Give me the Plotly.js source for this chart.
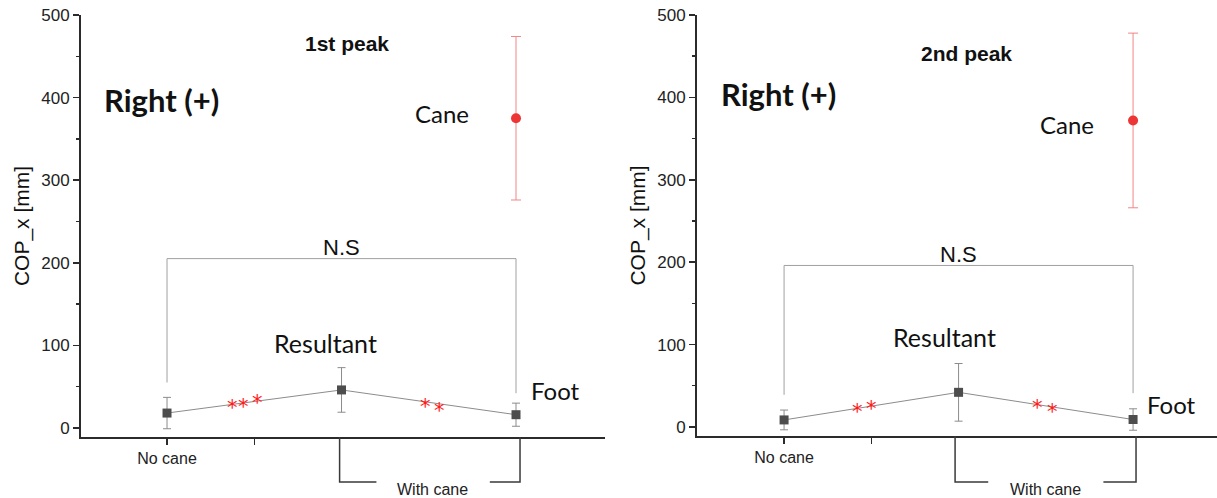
<!DOCTYPE html>
<html>
<head>
<meta charset="utf-8">
<script src="https://cdn.plot.ly/plotly-3.0.1.min.js"></script>
<style>html,body{margin:0;padding:0;background:#fff;}#chart{width:1217px;height:498px;}</style>
</head>
<body>
<div id="chart"></div>
<script>
// ---- data ----
const categories = ["No cane", "Resultant", "Foot"];
const xTickLabels = ["No cane", ""];
const peak1Mean = [18, 46, 16];
const peak1Err = [19, 27, 14];
const peak1Cane = [375];
const peak1CaneErr = [99];
const peak2Mean = [8.5, 42, 9];
const peak2Err = [12, 35, 13];
const peak2Cane = [372];
const peak2CaneErr = [106];
const panelTitles = ["1st peak", "2nd peak"];
const sigStar = "*";

// ---- helpers ----
const xpos = categories.map((c, i) => i + 1);
const caneX = [xpos[2]];
const gray = "#8c8c8c";
const axisCol = "#2b2b2b";
const txtFont = "Lato, 'Open Sans', sans-serif";
const arial = "Arial, 'Liberation Sans', sans-serif";

function mainTrace(y, err, xa, ya) {
  return {
    x: xpos, y: y, xaxis: xa, yaxis: ya, type: "scatter", mode: "lines+markers",
    line: {color: gray, width: 1},
    marker: {symbol: "square", size: 9, color: "#4d4d4d"},
    error_y: {type: "data", array: err, visible: true, color: gray, thickness: 1, width: 4},
    showlegend: false, hoverinfo: "skip"
  };
}
function caneTrace(y, err, xa, ya) {
  return {
    x: caneX, y: y, xaxis: xa, yaxis: ya, type: "scatter", mode: "markers",
    marker: {symbol: "circle", size: 10, color: "#ee3535"},
    error_y: {type: "data", array: err, visible: true, color: "#f28585", thickness: 1, width: 5},
    showlegend: false, hoverinfo: "skip"
  };
}

const data = [
  mainTrace(peak1Mean, peak1Err, "x", "y"),
  caneTrace(peak1Cane, peak1CaneErr, "x", "y"),
  mainTrace(peak2Mean, peak2Err, "x2", "y2"),
  caneTrace(peak2Cane, peak2CaneErr, "x2", "y2")
];

function yaxisDef(domain) {
  return {
    domain: domain, range: [-11, 500], tickvals: [0, 100, 200, 300, 400, 500],
    showline: true, linecolor: axisCol, linewidth: 2, mirror: false,
    ticks: "outside", ticklen: 6, tickwidth: 1.5, tickcolor: axisCol,
    minor: {tickvals: [50, 150, 250, 350, 450], ticks: "outside", ticklen: 3, tickwidth: 1.5, tickcolor: axisCol},
    showgrid: false, zeroline: false,
    tickfont: {family: arial, size: 17, color: "#222"},
    title: {text: "COP_x [mm]", font: {family: arial, size: 21, color: "#111"}, standoff: 6}
  };
}
function xaxisDef(domain, range, anchor) {
  return {
    domain: domain, range: range, anchor: anchor,
    tickvals: [xpos[0], (xpos[0] + xpos[1]) / 2], ticktext: xTickLabels,
    showline: true, linecolor: axisCol, linewidth: 2,
    ticks: "outside", ticklen: 6, tickwidth: 1.5, tickcolor: axisCol,
    showgrid: false, zeroline: false,
    tickfont: {family: arial, size: 16, color: "#222"}
  };
}

const layout = {
  width: 1217, height: 498,
  margin: {l: 0, r: 0, t: 0, b: 0},
  paper_bgcolor: "#fff", plot_bgcolor: "rgba(0,0,0,0)",
  xaxis: xaxisDef([81 / 1217, 605 / 1217], [0.507, 3.51], "y"),
  yaxis: yaxisDef([61 / 498, 483 / 498]),
  xaxis2: xaxisDef([697 / 1217, 1], [0.501, 3.481], "y2"),
  yaxis2: Object.assign(yaxisDef([62 / 498, 483 / 498]), {anchor: "x2"}),
  shapes: [], annotations: []
};
layout.yaxis.anchor = "x";

function txt(xr, yr, x, y, text, size, opts) {
  return Object.assign({
    xref: xr, yref: yr, x: x, y: y, text: text, showarrow: false,
    xanchor: "center", yanchor: "middle",
    font: {family: txtFont, size: size, color: "#111"}
  }, opts || {});
}

// panel-specific decorations (annotation placement)
const panels = [
  {xr: "x", yr: "y", title: panelTitles[0], titleX: 2.03, titleY: 465, rightX: 0.97, rightY: 397,
   caneTX: 2.573, caneTY: 381, resX: 1.91, resY: 103, footX: 3.226, footY: 45, nsY: 205, nsL: 55, nsR: 42,
   stars: [[1.3725, 29], [1.441, 30], [1.516, 35], [2.479, 30], [2.559, 25.4]],
   wc: [1.989, 3.023, 2.2, 2.85, 2.52], axisP: 61 / 498},
  {xr: "x2", yr: "y2", title: panelTitles[1], titleX: 2.046, titleY: 453, rightX: 0.966, rightY: 404,
   caneTX: 2.622, caneTY: 367, resX: 1.917, resY: 109, footX: 3.218, footY: 27, nsY: 196, nsL: 39, nsR: 41,
   stars: [[1.418, 23], [1.499, 26.6], [2.45, 27.8], [2.536, 23]],
   wc: [1.98, 3.017, 2.17, 2.83, 2.5], axisP: 62 / 498}
];

panels.forEach(p => {
  const A = layout.annotations, S = layout.shapes;
  A.push(txt(p.xr, p.yr, p.titleX, p.titleY, "<b>" + p.title + "</b>", 21, {font: {family: arial, size: 21, color: "#111"}}));
  A.push(txt(p.xr, p.yr, p.rightX, p.rightY, "<b>Right (+)</b>", 31));
  A.push(txt(p.xr, p.yr, p.caneTX, p.caneTY, "Cane", 24));
  A.push(txt(p.xr, p.yr, p.resX, p.resY, categories[1], 25));
  A.push(txt(p.xr, p.yr, p.footX, p.footY, categories[2], 24));
  A.push(txt(p.xr, p.yr, xpos[1], p.nsY + 13, "N.S", 23, {font: {family: arial, size: 22, color: "#111"}}));
  p.stars.forEach(s => {
    A.push(txt(p.xr, p.yr, s[0], s[1], sigStar, 21, {yshift: -4, font: {family: "'DejaVu Sans', sans-serif", size: 21, color: "#ff1a1a"}}));
  });
  A.push(txt(p.xr, "paper", p.wc[4], 0.018, "With cane", 16, {font: {family: arial, size: 16, color: "#222"}}));
  // N.S bracket
  S.push({type: "path", xref: p.xr, yref: p.yr,
    path: `M ${xpos[0]},${p.nsL} L ${xpos[0]},${p.nsY} L ${xpos[2]},${p.nsY} L ${xpos[2]},${p.nsR}`,
    line: {color: "#a0a0a0", width: 1}});
  // With cane bracket
  const yb = 16 / 498;
  S.push({type: "path", xref: p.xr, yref: "paper",
    path: `M ${p.wc[2]},${yb} L ${p.wc[0]},${yb} L ${p.wc[0]},${p.axisP}`,
    line: {color: "#3a3a3a", width: 1.5}});
  S.push({type: "path", xref: p.xr, yref: "paper",
    path: `M ${p.wc[3]},${yb} L ${p.wc[1]},${yb} L ${p.wc[1]},${p.axisP}`,
    line: {color: "#3a3a3a", width: 1.5}});
});

Plotly.newPlot("chart", data, layout, {displayModeBar: false, staticPlot: true});
</script>
</body>
</html>
